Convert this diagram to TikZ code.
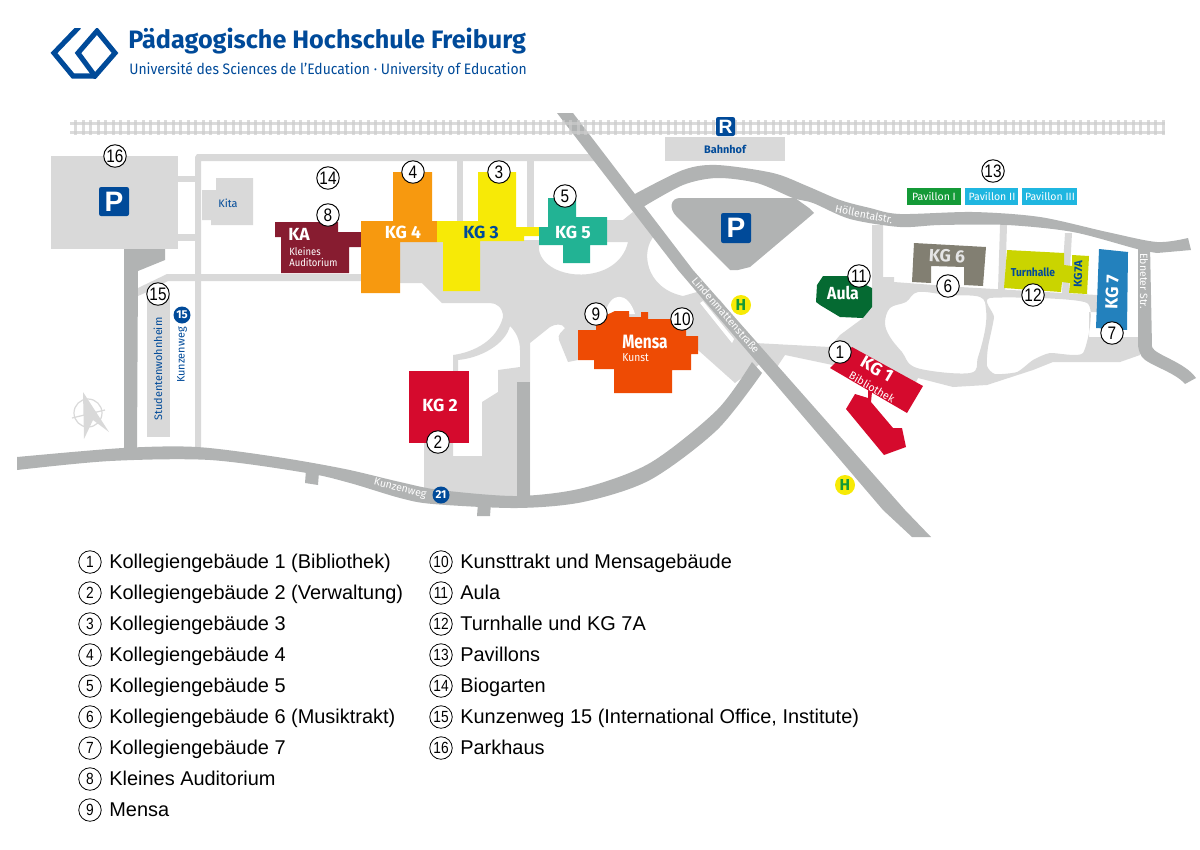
\documentclass[tikz,border=0pt]{standalone}
\usepackage{fontspec}
\setmainfont{Liberation Sans}
\newfontfamily\mapfont{Fira Sans}
\definecolor{roadlight}{HTML}{D9D9D9}
\definecolor{roaddark}{HTML}{B1B3B3}
\definecolor{phblue}{HTML}{004A99}
\definecolor{colKA}{HTML}{871C30}
\definecolor{colKGfour}{HTML}{F7990F}
\definecolor{colKGthree}{HTML}{F7EA06}
\definecolor{colKGfive}{HTML}{22B394}
\definecolor{colMensa}{HTML}{EE4B04}
\definecolor{colRed}{HTML}{D50A2D}
\definecolor{colAula}{HTML}{056A32}
\definecolor{colKGsix}{HTML}{827F72}
\definecolor{colTurn}{HTML}{CAD400}
\definecolor{colKGseven}{HTML}{2381BD}
\definecolor{colPavA}{HTML}{149A37}
\definecolor{colPavB}{HTML}{1FB6E0}
\newcommand{\numtxt}[1]{\scalebox{.85}[1]{#1}}
\tikzset{
  light/.style={fill=roadlight,draw=none},
  dark/.style={fill=roaddark,draw=none},
  numdot/.style={circle,draw=black,line width=0.55pt,fill=white,minimum size=0.45cm,inner sep=0pt,font=\fontsize{10.3}{12}\selectfont},
  legdot/.style={circle,draw=black,line width=0.45pt,fill=white,minimum size=0.45cm,inner sep=0pt,font=\fontsize{9.2}{11}\selectfont},
  legtxt/.style={anchor=base west,inner sep=0pt,font=\fontsize{11.35}{13}\selectfont},
  bluetxt/.style={text=phblue,inner sep=0pt,font=\mapfont\fontsize{6.2}{7}\selectfont},
  streettxt/.style={text=white,inner sep=0pt,font=\mapfont\fontsize{6}{7}\selectfont},
  housetxt/.style={text=white,inner sep=0pt,font=\mapfont\bfseries\fontsize{10}{12}\selectfont},
  smalltxt/.style={text=white,inner sep=0pt,font=\mapfont\fontsize{6}{7}\selectfont},
  badge/.style={circle,fill=phblue,text=white,minimum size=0.34cm,inner sep=0pt,font=\mapfont\bfseries\fontsize{6.5}{7}\selectfont},
  halt/.style={circle,fill=colKGthree,text=colPavA,minimum size=0.4cm,inner sep=0pt,font=\mapfont\bfseries\fontsize{9}{10}\selectfont},
  sign/.style={fill=phblue,rounded corners=1.2pt}
}
\begin{document}
\begin{tikzpicture}[x=0.02cm,y=-0.02cm]
  \useasboundingbox (0,0) rectangle (1200,849);
  % logo
  \begin{scope}
    \clip (40,28) rectangle (125,78.5);
    \draw[phblue,line width=2.9pt,miter limit=10] (79,27) -- (54,53) -- (73,76) -- (95,76);
    \draw[phblue,line width=2.9pt] (97,31) -- (115,53) -- (95,76) -- (78,53) -- cycle;
  \end{scope}
  \node[anchor=west,inner sep=0pt,text=phblue,font=\mapfont\bfseries\fontsize{14.35}{16}\selectfont] (title) at (128,41) {Pädagogische Hochschule Freiburg};
  \node[anchor=west,inner sep=0pt,text=phblue,font=\mapfont\fontsize{8.6}{10}\selectfont] (subtitle) at (129,70) {\scalebox{.92}[1]{Université des Sciences de l’Education · University of Education}};
  % light roads
  \fill[light] (51,156) rectangle (178,249);
  \fill[light] (178,176) rectangle (195,182);
  \fill[light] (178,234) rectangle (195,241);
  \fill[light] (195,447) -- (195,157) -- (197,154) -- (595,154) -- (598,161) -- (201,161) -- (201,447) -- cycle;
  \fill[light] (138,288) -- (167,274) -- (362,274) -- (362,281) -- (168,281) -- (147,292) -- (138,296) -- cycle;
  \fill[light] (457,160) rectangle (463,222);
  \fill[light] (527,160) rectangle (534,228);
  \fill[light] (147,295) rectangle (170,437);
  \fill[light] (665,137) rectangle (785,161);
  % kita
  \fill[light] (216,178) -- (253,178) -- (253,225) -- (211,225) -- (211,220) -- (202,220) -- (202,190) -- (216,190) -- cycle;
  \node[bluetxt] (kita) at (228,203) {Kita};
  % plaza
  \fill[light] (400,240) -- (539,240) -- (539,250) .. controls (545,282) and (618,286) .. (628,242) -- (607,242) -- (607,220) -- (623,220) -- (633,212) -- (655,235)
    .. controls (640,250) and (645,288) .. (683,296) -- (697,292) -- (720,300) -- (765,360) -- (735,383) -- (698,350) -- (660,350) -- (578,355) -- (578,360) -- (568,362) -- (559,340)
    .. controls (557,334) and (562,332) .. (565,328) .. controls (562,323) and (555,324) .. (550,327) -- (530,343) -- (530,505) -- (424,495) -- (424,440) -- (453,440) -- (453,456) -- (482,456) -- (482,402) -- (498,392) -- (498,370) -- (520,367) -- (520,350)
    .. controls (520,340) and (516,332) .. (510,326) .. controls (505,345) and (480,358) .. (458,360) -- (458,372) -- (453,372) -- (453,355) .. controls (475,352) and (497,340) .. (503,317)
    .. controls (503,308) and (497,303) .. (490,303) -- (442,303) -- (422,283) -- (400,283) -- cycle;
  % white gap above mensa
  \fill[white] (605,314) .. controls (610,291) and (628,291) .. (635,314) -- cycle;
  % plaza east, two islands cut out
  \fill[light,even odd rule] (755,343) -- (830,347) -- (840,335) -- (863,318) -- (872,305) -- (872,225) -- (883,225) -- (883,277) -- (894,277) -- (894,282) -- (960,287) -- (1097,295) -- (1097,312) -- (1089,312) -- (1089,337) -- (1140,337) -- (1140,355) -- (1120,362) -- (1053,362) -- (1033,370) -- (987,385) -- (953,387) -- (918,378) -- (915,384) -- (880,375) -- (785,355) -- (777,367) -- (760,362) -- cycle
    plot[smooth cycle,tension=0.6] coordinates {(918,292) (948,295) (980,297) (986,310) (985,330) (978,357) (970,373) (917,368) (902,352) (890,337) (885,323) (890,308) (906,302)}
    plot[smooth cycle,tension=0.35] coordinates {(990,298) (1087,303) (1083,353) (1050,353) (1033,360) (1017,372) (995,374) (987,366) (988,347) (994,317)};
  \fill[light] (1000,225) -- (1007,225) -- (1005,290) -- (998,290) -- cycle;
  \fill[light] (1065,233) -- (1072,233) -- (1070,270) -- (1069,295) -- (1062,295) -- (1063,265) -- cycle;
  % dark roads
  \fill[dark] (124,249) -- (165,249) -- (165,260) -- (138,271) -- (137,452) -- (124,452) -- cycle;
  \fill[dark] (517,382) rectangle (530,500);
  \fill[dark] (306,470) -- (319,472) -- (318,485) -- (305,483) -- cycle;
  \fill[dark] (478,503) -- (491,503) -- (490,516) -- (477,516) -- cycle;
  \fill[dark] plot[smooth] coordinates {(17,457) (123,448) (197,447) (277,457) (345,469) (400,482) (440,490) (517,496) (583,488) (650,463) (717,410) (752,362)}
    -- plot[smooth] coordinates {(762,373) (717,430) (650,480) (583,502) (517,508) (433,504) (400,498) (350,483) (307,473) (210,460) (110,461) (17,470)} -- cycle;
  \fill[dark] (557,113) -- (573,113) -- (693,270) -- (905,510) -- (931,537) -- (912,537) -- (883,510) -- (678,270) -- cycle;
  \fill[dark] plot[smooth] coordinates {(633,195) (683,170) (717,165) (773,173) (807,186) (840,200) (870,208) (900,214) (973,212) (1040,217) (1107,232) (1157,242) (1188,238)}
    -- (1191,250) -- plot[smooth] coordinates {(1157,253) (1137,249) (1073,232) (1007,225) (940,225) (900,227) (850,219) (813,203) (793,198) (757,183) (717,178) (683,185) (643,207)} -- cycle;
  \fill[dark] (1138,245) -- (1150,245) -- (1152,347) .. controls (1155,355) and (1185,362) .. (1196,378) -- (1185,384) .. controls (1175,372) and (1148,365) .. (1142,357) .. controls (1139,352) and (1138,348) .. (1138,343) -- cycle;
  \fill[dark] (680,198) -- (795,198) -- (809,208) -- (814,213) -- (750,267) -- (738,270) -- (730,270) -- (677,217) .. controls (668,208) and (671,198) .. (680,198) -- cycle;
  % white bar beside lindenmattenstrasse
  \fill[white] (700,303) -- (703,301) -- (734,339) -- (732,343) -- cycle;
  % railway
  \begin{scope}[opacity=0.7,color=black!20]
    \fill (70,121.5) rectangle (1165,125);
    \fill (70,130.5) rectangle (1165,134);
    \foreach \t in {0,...,145}
      \fill ({74+\t*7.5},120) rectangle ({77+\t*7.5},135);
  \end{scope}
  % compass
  \draw[roadlight,line width=0.7pt] (88,413) circle (14);
  \draw[roadlight,line width=0.7pt] (72,418) -- (105,410);
  \fill[roadlight] (83,392) -- (109,432) -- (93,420) -- (84,439) -- cycle;
  % signs
  \fill[sign] (99,187) rectangle (129,216);
  \node[text=white,inner sep=0pt,font=\bfseries\fontsize{16}{18}\selectfont] (parkone) at (114,202) {P};
  \fill[sign] (721,213) rectangle (751,243);
  \node[text=white,inner sep=0pt,font=\bfseries\fontsize{16}{18}\selectfont] (parktwo) at (736,228) {P};
  \fill[sign] (716,117) rectangle (735,136);
  \node[text=white,inner sep=0pt,font=\bfseries\fontsize{11}{12}\selectfont] (rail) at (725.5,126.5) {R};
  \node[bluetxt,font=\mapfont\bfseries\fontsize{6.2}{7}\selectfont] (bahnhof) at (725,149) {Bahnhof};
  % buildings
  \fill[colKA] (275,222) -- (338,222) -- (338,232) -- (362,232) -- (362,247) -- (349,247) -- (349,273) -- (281,273) -- (281,237) -- (275,237) -- cycle;
  \fill[colKGfour] (393,172) -- (432,172) -- (432,221) -- (437,221) -- (437,242) -- (400,242) -- (400,293) -- (361,293) -- (361,221) -- (393,221) -- cycle;
  \fill[colKGthree] (478,172) -- (516,172) -- (516,227) -- (540,227) -- (540,236) -- (524,236) -- (524,241) -- (480,241) -- (480,291) -- (443,291) -- (443,242) -- (437,242) -- (437,221) -- (478,221) -- cycle;
  \fill[colKGfive] (548,198) -- (576,198) -- (576,217) -- (607,217) -- (607,245) -- (590,245) -- (590,263) -- (563,263) -- (563,245) -- (539,245) -- (539,227) -- (548,227) -- cycle;
  \fill[colMensa] (578,330) -- (596,330) -- (596,320) -- (615,311) -- (629,311) -- (629,317) -- (641,317) -- (641,312) -- (648,312) -- (648,319) -- (672,319) -- (686,330) -- (686,336) -- (698,336) -- (698,354) -- (691,354) -- (691,370) -- (672,370) -- (672,393) -- (614,393) -- (614,369) -- (594,369) -- (594,360) -- (578,360) -- cycle;
  \fill[colRed] (409,371) rectangle (469,443);
  \fill[colRed] (852,347) -- (923,386) -- (907,413) -- (830,368) -- cycle;
  \fill[colRed] (855,394) -- (868,398) -- (868,390) -- (872,392) -- (871,402) -- (893,428) -- (902,428) -- (906,447) -- (884,455) -- (846,409) -- cycle;
  \fill[colAula] (823,276) -- (848,276) -- (872,288) -- (872,307) -- (863,318) -- (840,317) -- (820,305) -- (816,302) -- (817,285) -- cycle;
  \fill[colKGsix] (914,243) -- (986,247) -- (983,286) -- (964,285) -- (964,267) -- (931,266) -- (931,283) -- (912,282) -- cycle;
  \fill[colTurn] (1007,250) -- (1064,253) -- (1064,265) -- (1072,266) -- (1072,255) -- (1089,256) -- (1087,294) -- (1069,293) -- (1070,283) -- (1062,282) -- (1061,292) -- (1004,288) -- cycle;
  \fill[colKGseven] (1099,249) -- (1128,252) -- (1127,330) -- (1096,328) -- cycle;
  \fill[colPavA] (907,188) rectangle (961,205);
  \fill[colPavB] (965,188) rectangle (1018,205);
  \fill[colPavB] (1022,188) rectangle (1077,205);
  % building labels
  \node[housetxt] (lka) at (299,234) {KA};
  \node[smalltxt,anchor=west] (lkla) at (289,251) {\scalebox{.9}[1]{Kleines}};
  \node[smalltxt,anchor=west] (laud) at (289,262) {\scalebox{.9}[1]{Auditorium}};
  \node[housetxt] (lkgfour) at (403,232) {KG 4};
  \node[housetxt,text=phblue] (lkgthree) at (481,232) {KG 3};
  \node[housetxt] (lkgfive) at (573,232) {KG 5};
  \node[housetxt] (lkgtwo) at (440,405) {KG 2};
  \node[housetxt,font=\mapfont\bfseries\fontsize{11}{12}\selectfont] (lmensa) at (645,342) {\scalebox{.8}[1]{Mensa}};
  \node[smalltxt,anchor=west,font=\mapfont\fontsize{6.5}{7}\selectfont] (lkunst) at (622,358) {\scalebox{.9}[1]{Kunst}};
  \node[housetxt,rotate=-30] (lkgone) at (877,369) {KG 1};
  \node[smalltxt,rotate=-30,font=\mapfont\fontsize{6.2}{7}\selectfont] (lbib) at (872,387) {Bibliothek};
  \node[housetxt] (laula) at (843,293) {\scalebox{.9}[1]{Aula}};
  \node[housetxt,text=white!90!black,rotate=-3] (lkgsix) at (947,256) {KG 6};
  \node[housetxt,rotate=88] (lkgseven) at (1112,292) {KG 7};
  \node[bluetxt,font=\mapfont\bfseries\fontsize{6.5}{7}\selectfont] (lturn) at (1033,272) {\scalebox{.9}[1]{Turnhalle}};
  \node[bluetxt,font=\mapfont\bfseries\fontsize{6.5}{7}\selectfont,rotate=88] (lkgsa) at (1078,274) {KG7A};
  \node[smalltxt] (lpa) at (934,196.5) {Pavillon I};
  \node[smalltxt] (lpb) at (992,196.5) {Pavillon II};
  \node[smalltxt] (lpc) at (1050,196.5) {Pavillon III};
  \node[bluetxt,rotate=90] (lstud) at (158,369) {Studentenwohnheim};
  \node[bluetxt,rotate=90] (lkunz) at (182,355) {Kunzenweg};
  % street labels
  \node[streettxt,rotate=-14] (skunz) at (400,489) {Kunzenweg};
  \node[streettxt,rotate=-49] (slind) at (726,315) {Lindenmattenstraße};
  \node[streettxt,rotate=-11] (shoel) at (864,214) {Höllentalstr.};
  \node[streettxt,rotate=-90] (sebn) at (1144,281) {Ebneter Str.};
  \node[badge] (bfif) at (182,315) {15};
  \node[badge] (btwe) at (441,495) {21};
  \node[halt] (hone) at (741,305) {H};
  \node[halt] (htwo) at (845,485) {H};
  % numbers on the map
  \foreach \n/\px/\py in {1/840/352,2/438/442,3/499/172,4/413/172,5/565/196,6/948/286,7/1112/333,8/328/215,9/596/314,10/682/319,11/859/276,12/1033/295,13/993/171,14/328/178,15/158/294,16/115/156}
    \node[numdot] (c\n) at (\px,\py) {\numtxt{\n}};
  % legend
  \foreach \n/\lab in {1/Kollegiengebäude 1 (Bibliothek),2/Kollegiengebäude 2 (Verwaltung),3/Kollegiengebäude 3,4/Kollegiengebäude 4,5/Kollegiengebäude 5,6/Kollegiengebäude 6 (Musiktrakt),7/Kollegiengebäude 7,8/Kleines Auditorium,9/Mensa}{
    \node[legdot] (n\n) at (90,{531+31*\n}) {\numtxt{\n}};
    \node[legtxt] (t\n) at (109,{537+31*\n}) {\lab};
  }
  \foreach \n/\lab in {10/Kunsttrakt und Mensagebäude,11/Aula,12/Turnhalle und KG 7A,13/Pavillons,14/Biogarten,15/{Kunzenweg 15 (International Office, Institute)},16/Parkhaus}{
    \node[legdot] (n\n) at (441,{252+31*\n}) {\numtxt{\n}};
    \node[legtxt] (t\n) at (460,{258+31*\n}) {\lab};
  }
\end{tikzpicture}
\end{document}
